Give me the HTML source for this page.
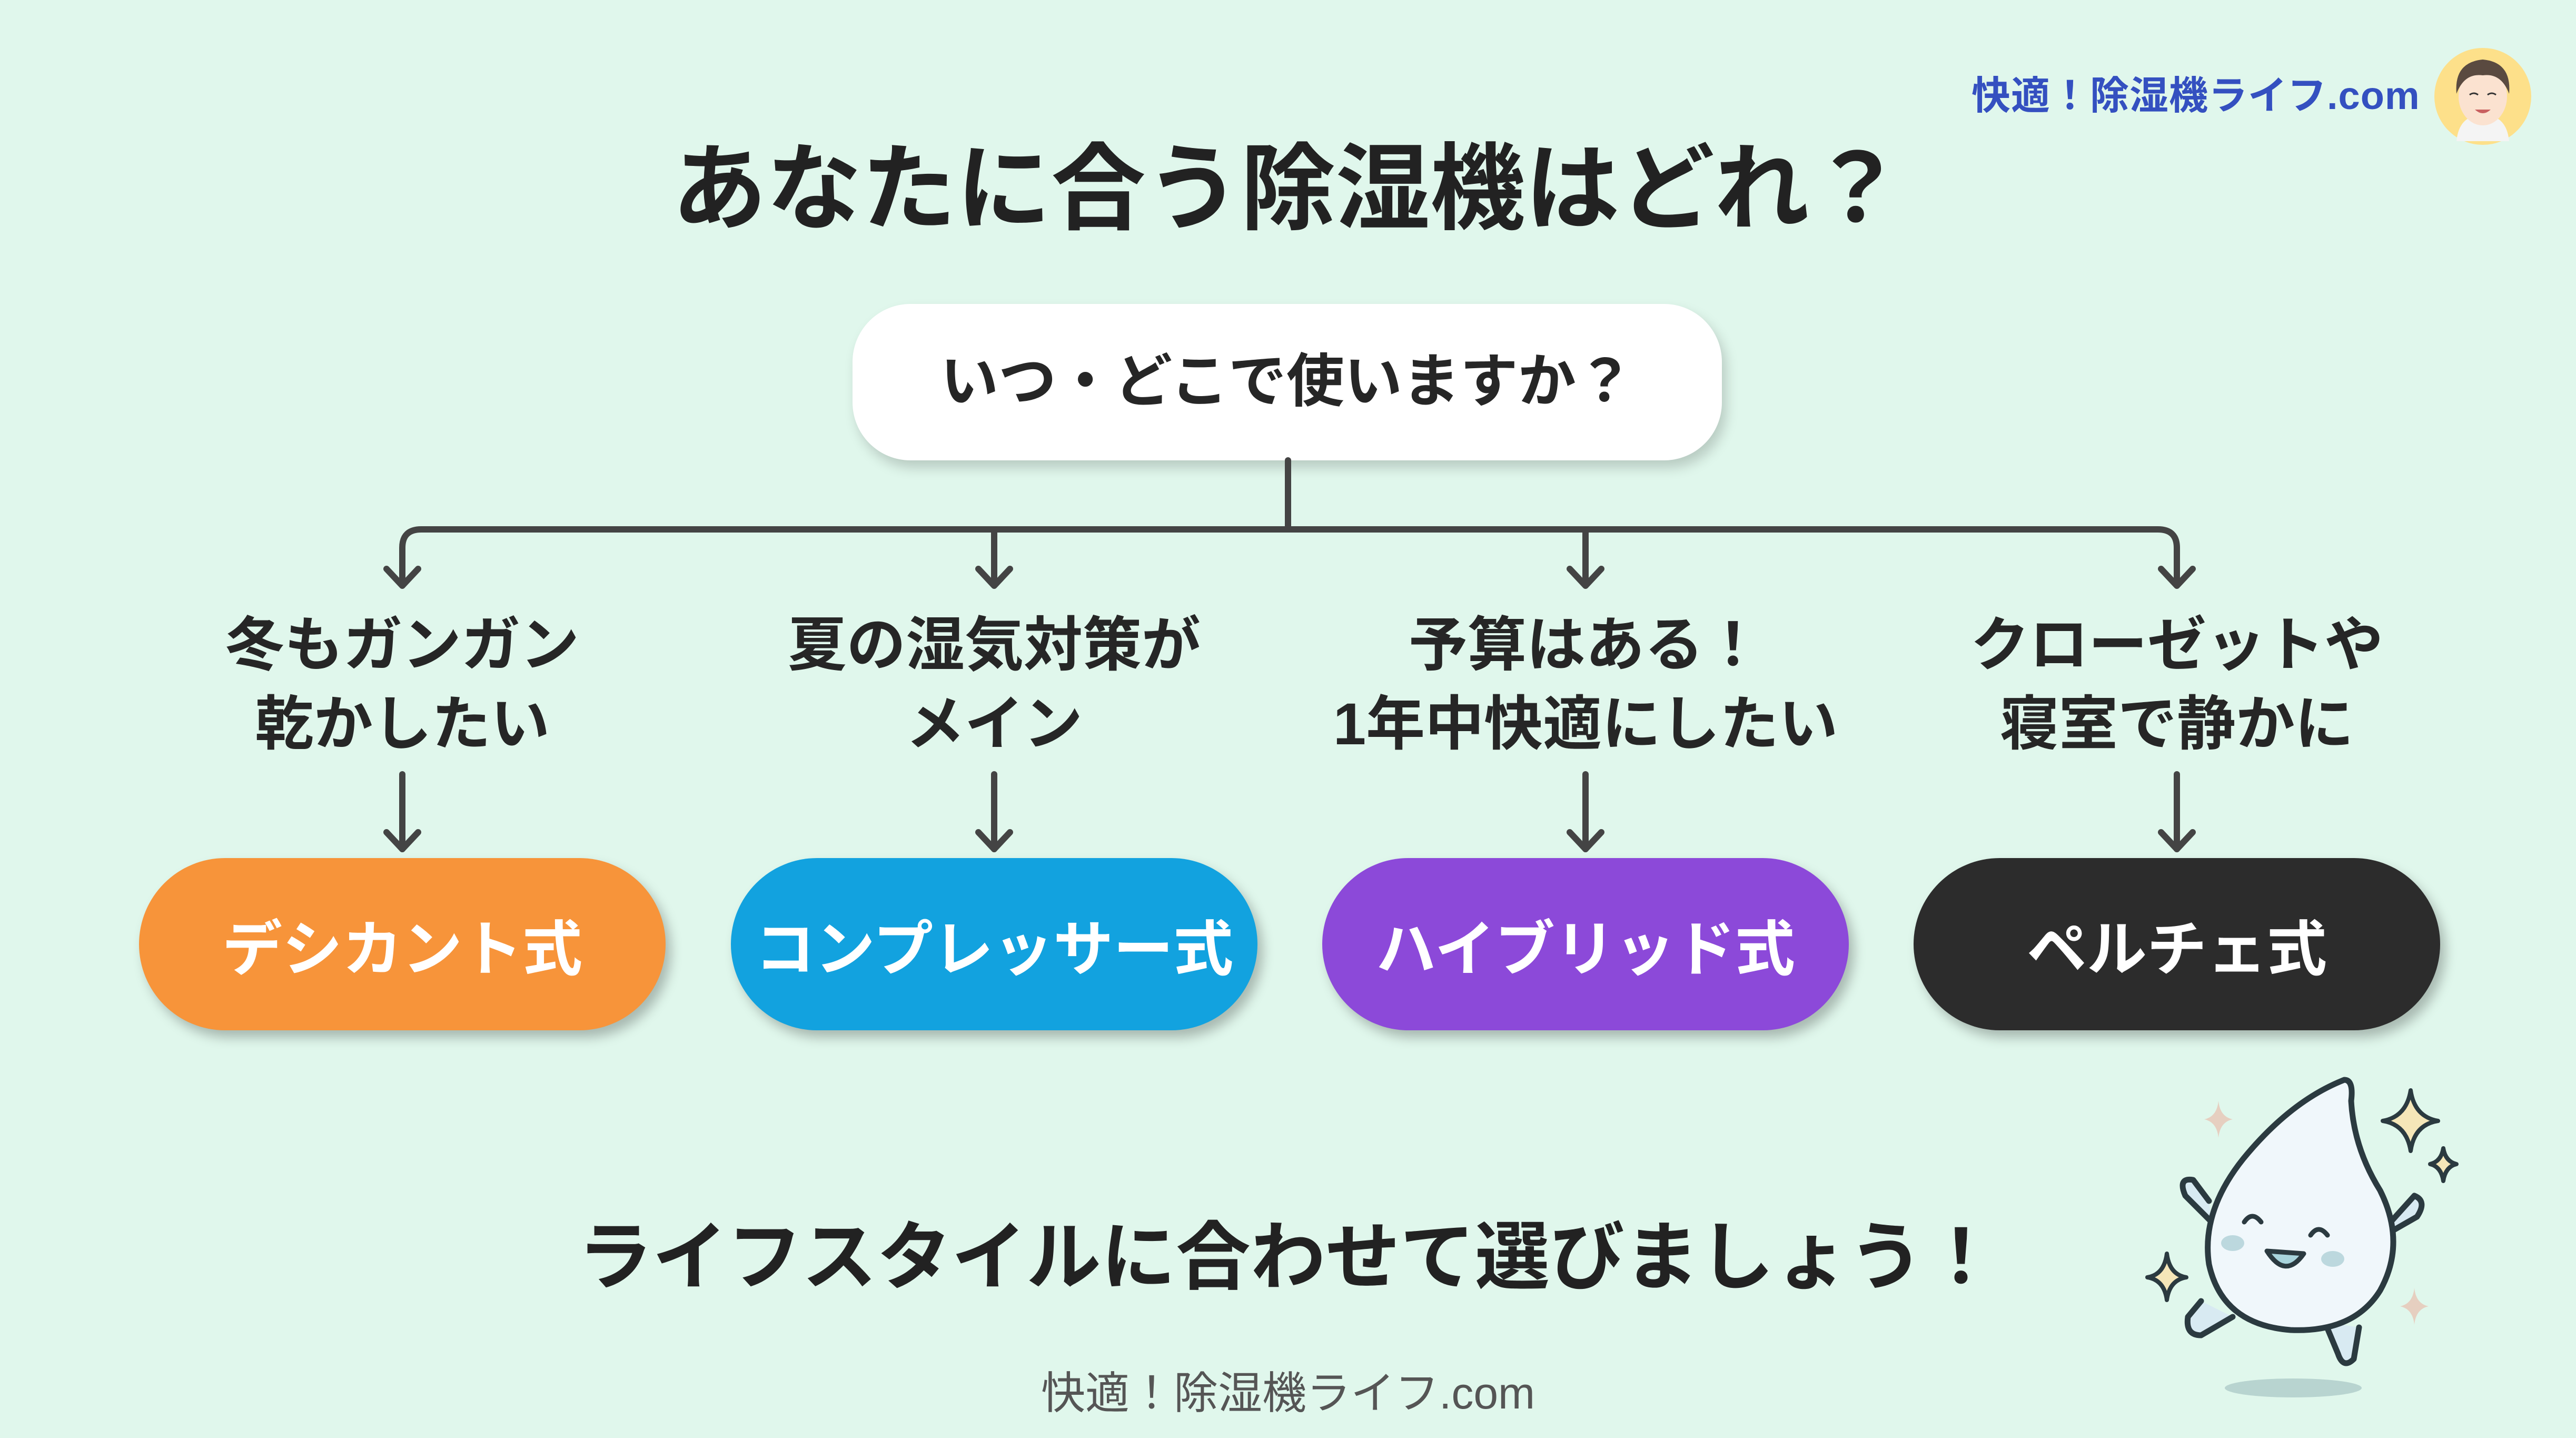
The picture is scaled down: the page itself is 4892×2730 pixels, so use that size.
<!DOCTYPE html>
<html><head><meta charset="utf-8">
<style>
html,body{margin:0;padding:0}
body{width:4892px;height:2730px;position:relative;overflow:hidden;background:#e0f7ec;font-family:"Liberation Sans","Noto Sans CJK JP",sans-serif;color:#262626}
.t{position:absolute;white-space:nowrap;text-align:center;font-weight:bold}
.pill{position:absolute;top:1629px;width:1000px;height:327px;border-radius:164px;color:#fff;font-weight:bold;font-size:114px;display:flex;align-items:center;justify-content:center;box-shadow:10px 14px 22px rgba(0,0,0,0.25)}
.lab{position:absolute;width:1100px;text-align:center;font-weight:bold;font-size:112px;line-height:150px;top:1150px;color:#262626}
</style></head><body>
<div class="t" style="left:3744px;top:122px;font-size:74px;color:#3450c0;letter-spacing:1px">快適！除湿機ライフ.com</div>
<svg style="position:absolute;left:4620px;top:88px" width="190" height="190" viewBox="0 0 190 190">
<circle cx="95" cy="95" r="92" fill="#fde08a"/>
<path d="M45 180 Q50 130 95 130 Q140 130 145 180 Z" fill="#f4f4f4"/>
<ellipse cx="95" cy="95" rx="46" ry="55" fill="#fbe2d0"/>
<path d="M45 90 Q40 30 95 25 Q150 30 145 90 Q130 50 95 55 Q60 50 45 90Z" fill="#5a4a40"/>
<path d="M70 92 q8 -6 16 0 M104 92 q8 -6 16 0" stroke="#333" stroke-width="3" fill="none"/>
<path d="M80 120 q15 14 30 0 z" fill="#c96060"/>
</svg>
<div class="t" style="left:0;width:4892px;top:250px;font-size:180px;line-height:220px;color:#222">あなたに合う除湿機はどれ？</div>
<div style="position:absolute;left:1619px;top:577px;width:1651px;height:297px;background:#fff;border-radius:110px;box-shadow:8px 14px 24px rgba(0,0,0,0.18)"></div>
<div class="t" style="left:1619px;width:1651px;top:650px;font-size:110px;line-height:150px">いつ・どこで使いますか？</div>
<svg style="position:absolute;left:0;top:0" width="4892" height="2730">
<g stroke="#444" stroke-width="12" fill="none" stroke-linecap="round" stroke-linejoin="round">
<line x1="2446" y1="874" x2="2446" y2="1005"/>
<path d="M764 1110 V1040 Q764 1005 800 1005 H4098 Q4134 1005 4134 1040 V1110"/>
<line x1="1888" y1="1005" x2="1888" y2="1110"/>
<line x1="3011" y1="1005" x2="3011" y2="1110"/>
<path d="M734 1080 L764 1112 L794 1080"/><path d="M1858 1080 L1888 1112 L1918 1080"/><path d="M2981 1080 L3011 1112 L3041 1080"/><path d="M4104 1080 L4134 1112 L4164 1080"/>
<line x1="764" y1="1470" x2="764" y2="1612"/><line x1="1888" y1="1470" x2="1888" y2="1612"/><line x1="3011" y1="1470" x2="3011" y2="1612"/><line x1="4134" y1="1470" x2="4134" y2="1612"/>
<path d="M734 1580 L764 1612 L794 1580"/><path d="M1858 1580 L1888 1612 L1918 1580"/><path d="M2981 1580 L3011 1612 L3041 1580"/><path d="M4104 1580 L4134 1612 L4164 1580"/>
</g>
</svg>
<div class="lab" style="left:214px">冬もガンガン<br>乾かしたい</div>
<div class="lab" style="left:1338px">夏の湿気対策が<br>メイン</div>
<div class="lab" style="left:2461px">予算はある！<br>1年中快適にしたい</div>
<div class="lab" style="left:3584px">クローゼットや<br>寝室で静かに</div>
<div class="pill" style="left:264px;background:#f7943a">デシカント式</div>
<div class="pill" style="left:1388px;background:#12a2df">コンプレッサー式</div>
<div class="pill" style="left:2511px;background:#8c49d9">ハイブリッド式</div>
<div class="pill" style="left:3634px;background:#2c2c2c">ペルチェ式</div>
<div class="t" style="left:0;width:4892px;top:2298px;font-size:142px;line-height:180px;color:#222">ライフスタイルに合わせて選びましょう！</div>
<div class="t" style="left:0;width:4892px;top:2590px;font-size:84px;line-height:110px;color:#555;font-weight:normal">快適！除湿機ライフ.com</div>
<svg style="position:absolute;left:4000px;top:1980px" width="800" height="700" viewBox="0 0 800 700">
<ellipse cx="355" cy="655" rx="130" ry="18" fill="#b8d4d0"/>
<g stroke="#2b3a40" stroke-width="11" stroke-linecap="round" stroke-linejoin="round">
<path d="M180 490 L155 520 Q150 555 180 555 L240 520" fill="#d8eaf2"/>
<path d="M415 530 L440 590 Q450 620 470 600 L480 540" fill="#d8eaf2"/>
<path d="M200 340 L150 290 Q135 255 165 260 L195 300" fill="#d8eaf2"/>
<path d="M520 370 L590 330 Q610 300 585 290 L540 340" fill="#d8eaf2"/>
<path d="M452 70 Q470 70 465 110 Q470 200 520 280 Q570 380 520 470 Q470 550 350 545 Q220 535 195 420 Q180 320 260 220 Q350 110 452 70 Z" fill="#f0f7fb"/>
<path d="M262 340 q15 -22 32 0 M388 365 q15 -22 32 0" fill="none" stroke-width="9"/>
<path d="M305 395 Q340 450 375 400 Z" fill="#a8d4dc" stroke-width="9"/>
</g>
<ellipse cx="240" cy="380" rx="22" ry="15" fill="#bcd8de"/>
<ellipse cx="430" cy="410" rx="22" ry="15" fill="#bcd8de"/>
<g stroke="#2b3a40" stroke-width="8" fill="#f5e6b8" stroke-linejoin="round">
<path d="M578 90 Q585 140 630 148 Q585 155 578 205 Q570 155 525 148 Q570 140 578 90Z"/>
<path d="M640 200 Q644 225 665 230 Q644 235 640 262 Q636 235 615 230 Q636 225 640 200Z"/>
<path d="M115 400 Q120 440 152 445 Q120 450 115 488 Q110 450 78 445 Q110 440 115 400Z"/>
</g>
<path d="M213 110 Q216 140 240 145 Q216 150 213 180 Q210 150 186 145 Q210 140 213 110Z" fill="#e6cfc0"/>
<path d="M585 465 Q588 495 612 500 Q588 505 585 535 Q582 505 558 500 Q582 495 585 465Z" fill="#e6cfc0"/>
</svg>
</body></html>
